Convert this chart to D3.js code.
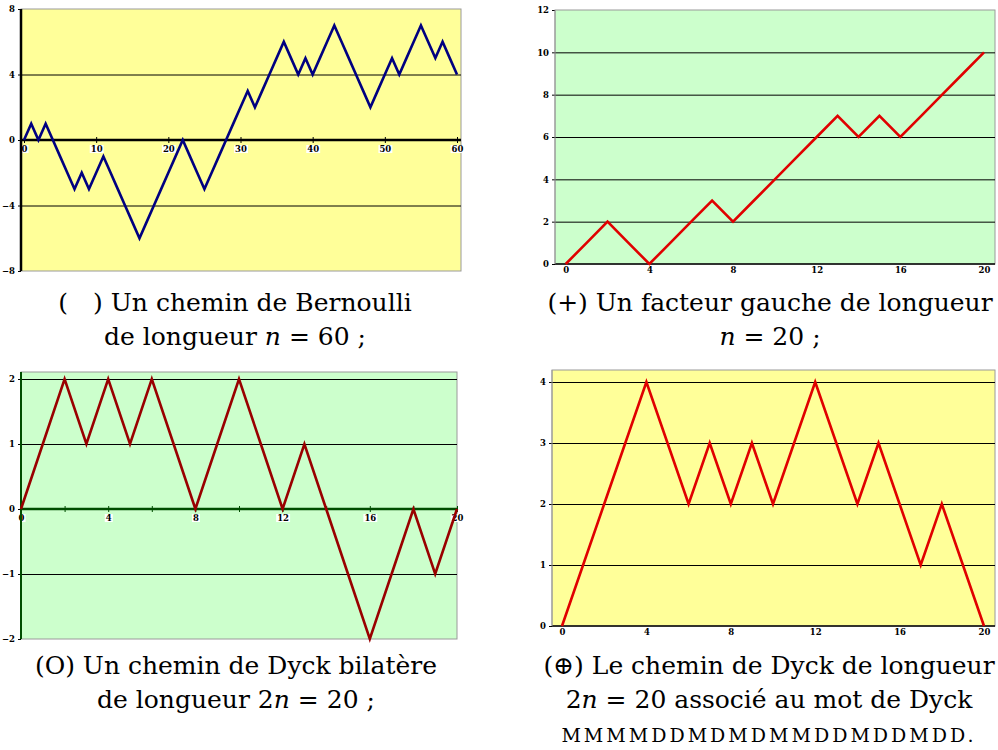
<!DOCTYPE html>
<html>
<head>
<meta charset="utf-8">
<script src="https://cdn.jsdelivr.net/npm/d3@7"></script>
<style>
	body { margin: 0; background: #fff; }
	svg { display: block; }
</style>
</head>
<body>
<div id="chart"></div>
<script>
// path heights, one value per step
const bernoulliPath = [0, 1, 0, 1, 0, -1, -2, -3, -2, -3, -2, -1, -2, -3, -4, -5, -6, -5, -4, -3,
	-2, -1, 0, -1, -2, -3, -2, -1, 0, 1, 2, 3, 2, 3, 4, 5, 6, 5, 4, 5,
	4, 5, 6, 7, 6, 5, 4, 3, 2, 3, 4, 5, 4, 5, 6, 7, 6, 5, 6, 5, 4];
const leftFactorPath = [0, 1, 2, 1, 0, 1, 2, 3, 2, 3, 4, 5, 6, 7, 6, 7, 6, 7, 8, 9, 10];
const bilateralPath = [0, 1, 2, 1, 2, 1, 2, 1, 0, 1, 2, 1, 0, 1, 0, -1, -2, -1, 0, -1, 0];
const dyckPath = [0, 1, 2, 3, 4, 3, 2, 3, 2, 3, 2, 3, 4, 3, 2, 3, 2, 1, 2, 1, 0];

// tick labels
const bernoulliXTicks = [0, 10, 20, 30, 40, 50, 60];
const bernoulliYTicks = [-8, -4, 0, 4, 8];
const factorXTicks = [0, 4, 8, 12, 16, 20];
const factorYTicks = [0, 2, 4, 6, 8, 10, 12];
const bilateralXTicks = [0, 4, 8, 12, 16, 20];
const bilateralYTicks = [-2, -1, 0, 1, 2];
const dyckXTicks = [0, 4, 8, 12, 16, 20];
const dyckYTicks = [0, 1, 2, 3, 4];

// captions: each line is a list of [text, italic]
const bernoulliCaption = [
	[['(\u2002\u2002) Un chemin de Bernoulli', false]],
	[['de longueur ', false], ['n', true], [' = 60 ;', false]]
];
const factorCaption = [
	[['(+) Un facteur gauche de longueur', false]],
	[['n', true], [' = 20 ;', false]]
];
const bilateralCaption = [
	[['(O) Un chemin de Dyck bilatère', false]],
	[['de longueur 2', false], ['n', true], [' = 20 ;', false]]
];
const dyckCaption = [
	[['(\u2295) Le chemin de Dyck de longueur', false]],
	[['2', false], ['n', true], [' = 20 associé au mot de Dyck', false]],
	[['MMMMDDMDMDMMDDMDDMDD.', false]]
];

const serif = "'DejaVu Serif', serif";

const svg = d3.select('#chart').append('svg')
	.attr('width', 998)
	.attr('height', 750);

function drawPanel(cfg) {
	const p = cfg.plot;
	const x = d3.scaleLinear().domain(cfg.xDomain).range(cfg.xRange);
	const y = d3.scaleLinear().domain(cfg.yDomain).range(cfg.yRange);
	const g = svg.append('g');

	// plot background
	g.append('rect')
		.attr('x', p.left).attr('y', p.top)
		.attr('width', p.right - p.left).attr('height', p.bottom - p.top)
		.attr('fill', cfg.background)
		.attr('stroke', '#9a9a9a')
		.attr('stroke-width', 1);

	// horizontal grid lines
	const grid = g.append('g')
		.attr('transform', 'translate(' + p.left + ',0)')
		.call(d3.axisLeft(y).tickValues(cfg.grid).tickSize(-(p.right - p.left)).tickFormat(''));
	grid.select('.domain').remove();
	grid.selectAll('line').attr('stroke', '#000').attr('stroke-width', 1);

	// x axis
	const xAxis = g.append('g')
		.attr('transform', 'translate(0,' + y(cfg.xAxisAt) + ')')
		.call(d3.axisBottom(x).tickValues(cfg.xMarks).tickSize(cfg.xTickSize).tickFormat(function (d) {
			return cfg.xTicks.indexOf(d) >= 0 ? d : '';
		}).tickPadding(3));
	xAxis.select('.domain').remove();
	xAxis.selectAll('line').attr('stroke', cfg.axisColor).attr('y1', -cfg.xTickSize);
	g.append('line')
		.attr('x1', p.left).attr('x2', p.right)
		.attr('y1', y(cfg.xAxisAt)).attr('y2', y(cfg.xAxisAt))
		.attr('stroke', cfg.axisColor)
		.attr('stroke-width', cfg.xAxisWidth);

	// y axis
	const yAxis = g.append('g')
		.attr('transform', 'translate(' + p.left + ',0)')
		.call(d3.axisLeft(y).tickValues(cfg.yTicks).tickSize(3).tickPadding(3).tickFormat(d3.format('d')));
	yAxis.select('.domain').remove();
	yAxis.selectAll('line').attr('stroke', '#000');
	g.append('line')
		.attr('x1', p.left).attr('x2', p.left)
		.attr('y1', p.top).attr('y2', p.bottom)
		.attr('stroke', cfg.yAxisColor)
		.attr('stroke-width', cfg.yAxisWidth);

	g.selectAll('.tick text')
		.attr('font-family', serif)
		.style('font-weight', 'bold')
		.style('font-size', '8.5px')
		.attr('fill', '#000');

	if (cfg.labelBoxes) {
		xAxis.selectAll('.tick').each(function () {
			const t = d3.select(this).select('text');
			if (!t.text()) return;
			const b = t.node().getBBox();
			d3.select(this).insert('rect', 'text')
				.attr('x', b.x - 1).attr('y', b.y + 1)
				.attr('width', b.width + 2).attr('height', b.height - 2)
				.attr('fill', '#fff');
		});
	}

	// the path itself
	const line = d3.line()
		.x(function (d, i) { return x(i); })
		.y(function (d) { return y(d); });
	g.append('path')
		.datum(cfg.values)
		.attr('d', line)
		.attr('fill', 'none')
		.attr('stroke', cfg.lineColor)
		.attr('stroke-width', 2.6)
		.attr('stroke-linejoin', 'miter');

	// caption under the chart
	const cap = g.append('text')
		.attr('font-family', serif)
		.style('font-size', '25px')
		.attr('fill', '#000')
		.attr('text-anchor', 'middle');
	cfg.caption.forEach(function (parts, li) {
		const row = cap.append('tspan')
			.attr('x', cfg.captionX)
			.attr('y', cfg.captionY + li * 34);
		parts.forEach(function (part) {
			const s = row.append('tspan').text(part[0]);
			if (part[1]) s.style('font-style', 'italic');
		});
		if (li === 2) row.style('font-size', '19px').style('letter-spacing', '3px');
	});
}

drawPanel({
	values: bernoulliPath,
	plot: { left: 21, right: 461, top: 9, bottom: 271 },
	xDomain: [0, 60], xRange: [24, 457],
	yDomain: [-8, 8], yRange: [271, 9],
	xTicks: bernoulliXTicks, xMarks: bernoulliXTicks, xTickSize: 3,
	yTicks: bernoulliYTicks, grid: [-4, 4],
	xAxisAt: 0, xAxisWidth: 2.5, axisColor: '#000',
	yAxisColor: '#000', yAxisWidth: 2.5,
	background: '#ffff99', lineColor: '#000080', labelBoxes: true,
	caption: bernoulliCaption, captionX: 235, captionY: 311
});

drawPanel({
	values: leftFactorPath,
	plot: { left: 555, right: 995, top: 10, bottom: 264 },
	xDomain: [0, 20], xRange: [565.7, 984],
	yDomain: [0, 12], yRange: [264, 10],
	xTicks: factorXTicks, xMarks: factorXTicks, xTickSize: 0,
	yTicks: factorYTicks, grid: [2, 4, 6, 8, 10],
	xAxisAt: 0, xAxisWidth: 1.5, axisColor: '#000',
	yAxisColor: '#9a9a9a', yAxisWidth: 1,
	background: '#ccffcc', lineColor: '#e00000', labelBoxes: false,
	caption: factorCaption, captionX: 770, captionY: 311
});

drawPanel({
	values: bilateralPath,
	plot: { left: 21, right: 457, top: 372, bottom: 639 },
	xDomain: [0, 20], xRange: [21, 457],
	yDomain: [-2, 2], yRange: [639, 379],
	xTicks: bilateralXTicks, xMarks: d3.range(0, 21, 2), xTickSize: 3,
	yTicks: bilateralYTicks, grid: [-1, 1, 2],
	xAxisAt: 0, xAxisWidth: 2.5, axisColor: '#004d00',
	yAxisColor: '#004d00', yAxisWidth: 2,
	background: '#ccffcc', lineColor: '#990000', labelBoxes: true,
	caption: bilateralCaption, captionX: 236, captionY: 674
});

drawPanel({
	values: dyckPath,
	plot: { left: 552, right: 995, top: 370, bottom: 626 },
	xDomain: [0, 20], xRange: [562, 984],
	yDomain: [0, 4], yRange: [626, 382],
	xTicks: dyckXTicks, xMarks: dyckXTicks, xTickSize: 0,
	yTicks: dyckYTicks, grid: [1, 2, 3, 4],
	xAxisAt: 0, xAxisWidth: 1.5, axisColor: '#000',
	yAxisColor: '#9a9a9a', yAxisWidth: 1,
	background: '#ffff99', lineColor: '#e00000', labelBoxes: false,
	caption: dyckCaption, captionX: 769, captionY: 674
});
</script>
</body>
</html>
